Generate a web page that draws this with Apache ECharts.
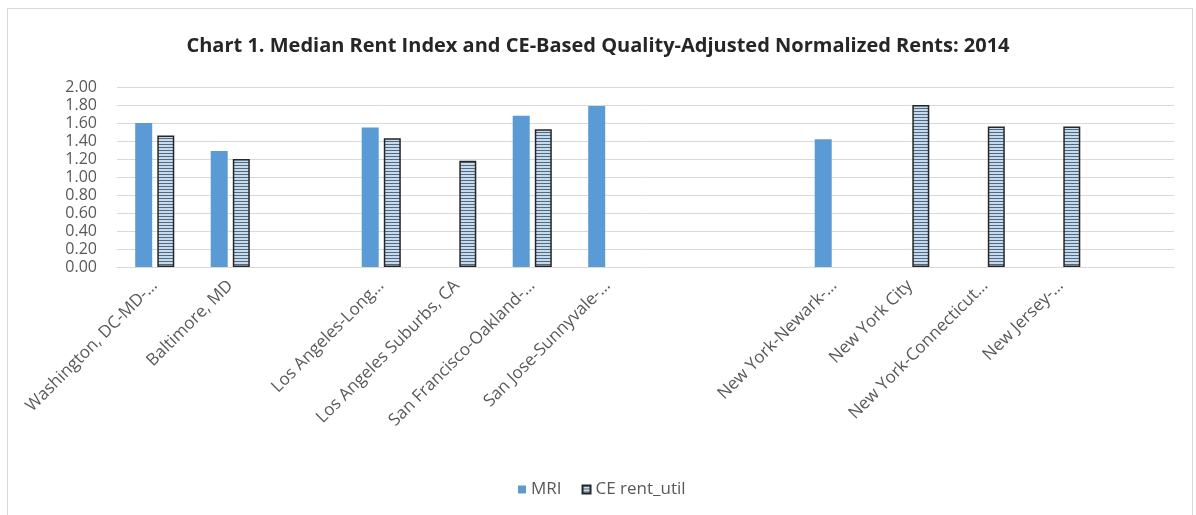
<!DOCTYPE html>
<html>
<head>
<meta charset="utf-8">
<script src="https://cdn.jsdelivr.net/npm/echarts@6/dist/echarts.min.js"></script>
<style>
  html, body { margin: 0; padding: 0; background: #fff; }
  #frame { position: absolute; left: 7px; top: 8px; width: 1184px; height: 520px; border: 1px solid #d9d9d9; border-bottom: none; }
  #chart { position: absolute; left: 0; top: 0; width: 1196px; height: 515px; }
</style>
</head>
<body>
<div id="frame"></div>
<div id="chart"></div>
<script>
const categories = [
  'Washington, DC-MD-…', 'Baltimore, MD', ' ',
  'Los Angeles-Long…', 'Los Angeles Suburbs, CA', 'San Francisco-Oakland-…', 'San Jose-Sunnyvale-…',
  '  ', '   ',
  'New York-Newark-…', 'New York City', 'New York-Connecticut…', 'New Jersey-…', '    '
]
const mri = [1.60, 1.29, null, 1.55, null, 1.68, 1.79, null, null, 1.42, null, null, null, null]
const ceRent = [1.46, 1.20, null, 1.43, 1.18, 1.53, null, null, null, null, 1.80, 1.56, 1.56, null]
const yTicks = { min: 0, max: 2, interval: 0.2 }

// striped fill like the excel pattern
const pat = document.createElement('canvas')
pat.width = 4
pat.height = 3
const pctx = pat.getContext('2d')
pctx.fillStyle = '#c4daee'
pctx.fillRect(0, 0, 4, 3)
pctx.fillStyle = '#56687c'
pctx.fillRect(0, 0, 4, 1)

const font = '"Open Sans", sans-serif'
const chart = echarts.init(document.getElementById('chart'))
chart.setOption({
  animation: false,
  backgroundColor: 'transparent',
  title: {
    text: 'Chart 1. Median Rent Index and CE-Based Quality-Adjusted Normalized Rents: 2014',
    left: 'center',
    top: 31,
    textStyle: { fontFamily: font, fontSize: 20, fontWeight: 'bold', color: '#262626' }
  },
  legend: {
    left: 513,
    top: 476,
    icon: 'rect',
    itemWidth: 8,
    itemHeight: 8,
    itemGap: 20,
    textStyle: { fontFamily: font, fontSize: 17, color: '#595959' },
    data: ['MRI', 'CE rent_util']
  },
  grid: { left: 117, right: 22, top: 87, bottom: 248 },
  xAxis: {
    type: 'category',
    data: categories,
    axisLine: { lineStyle: { color: '#d9d9d9' } },
    axisTick: { show: false },
    axisLabel: {
      interval: 0,
      rotate: 45,
      margin: 16,
      fontFamily: font,
      fontSize: 17,
      color: '#595959'
    }
  },
  yAxis: {
    type: 'value',
    min: yTicks.min,
    max: yTicks.max,
    interval: yTicks.interval,
    axisLine: { show: false },
    axisTick: { show: false },
    splitLine: { lineStyle: { color: '#d9d9d9' } },
    axisLabel: {
      margin: 20,
      fontFamily: font,
      fontSize: 16,
      color: '#595959',
      formatter: v => v.toFixed(2)
    }
  },
  series: [
    {
      name: 'MRI',
      type: 'bar',
      data: mri,
      barWidth: 17,
      barGap: '30%',
      itemStyle: { color: '#5b9bd5' }
    },
    {
      name: 'CE rent_util',
      type: 'bar',
      data: ceRent,
      barWidth: 17,
      itemStyle: {
        color: { image: pat, repeat: 'repeat' },
        borderColor: '#262626',
        borderWidth: 1.5
      }
    }
  ]
})
</script>
</body>
</html>
